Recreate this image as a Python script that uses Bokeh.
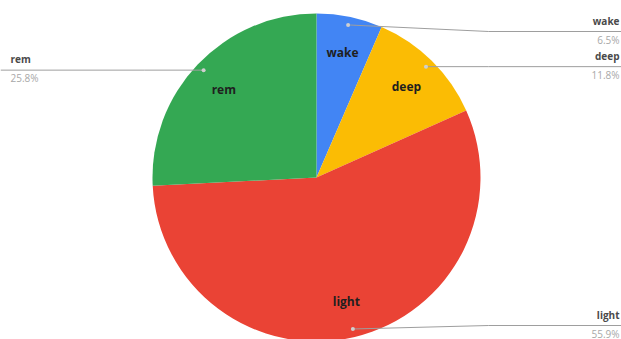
import numpy as np
from bokeh.plotting import figure
from bokeh.models import Range1d, ColumnDataSource
from bokeh.core.properties import value
from bokeh.embed import file_html
from bokeh.resources import INLINE

categories = ["wake", "deep", "light", "rem"]
shares = [6.5, 11.8, 55.9, 25.8]
pct_labels = ["6.5%", "11.8%", "55.9%", "25.8%"]
colors = ["#4285F4", "#FBBC04", "#EA4335", "#34A853"]

W, H = 621, 339
CX, CY, R = 316, H - 177, 164
FONT = "Open Sans"

p = figure(width=W, height=H, x_range=Range1d(0, W), y_range=Range1d(0, H),
           output_backend="svg", toolbar_location=None, min_border=0)
p.axis.visible = False
p.grid.visible = False
p.outline_line_color = None
p.background_fill_color = "white"
p.border_fill_color = "white"

frac = np.array(shares) / sum(shares)
cum = np.concatenate([[0], np.cumsum(frac)])
start = np.pi / 2 - cum[1:] * 2 * np.pi
end = np.pi / 2 - cum[:-1] * 2 * np.pi
mid = (start + end) / 2

src = ColumnDataSource(dict(start=start, end=end, color=colors))
p.wedge(x=CX, y=CY, radius=R, start_angle="start", end_angle="end",
        fill_color="color", line_color=None, source=src)

# inner labels
ix = CX + 0.78 * R * np.cos(mid)
iy = CY + 0.78 * R * np.sin(mid)
p.text(x=ix, y=iy, text=categories, text_align="center", text_baseline="middle",
       text_font=value(FONT), text_font_style="bold", text_font_size="12px",
       text_color="#1f1f1f")

# leader lines
dx = CX + 0.95 * R * np.cos(mid)
dy = CY + 0.95 * R * np.sin(mid)
ly = np.clip(dy, H - 325, H - 31)
right = np.cos(mid) >= 0
xs, ys = [], []
for i in range(len(categories)):
    if right[i]:
        ex = CX + 1.05 * R
        xs.append([dx[i], ex, W])
    else:
        ex = CX - 1.05 * R
        xs.append([dx[i], ex, 0])
    ys.append([dy[i], ly[i], ly[i]])
p.multi_line(xs=xs, ys=ys, line_color="#9e9e9e", line_width=1)
p.scatter(x=dx, y=dy, size=4, fill_color="#cfcfcf", line_color=None)

# outer labels
for i in range(len(categories)):
    tx = W - 2 if right[i] else 10
    align = "right" if right[i] else "left"
    p.text(x=[tx], y=[ly[i] + 11], text=[categories[i]], text_align=align,
           text_baseline="middle", text_font=value(FONT), text_font_style="bold",
           text_font_size="10px", text_color="#4a4a4a")
    p.text(x=[tx], y=[ly[i] - 8], text=[pct_labels[i]], text_align=align,
           text_baseline="middle", text_font=value(FONT),
           text_font_size="10px", text_color="#a8a8a8")

open("out.html", "w").write(file_html(p, INLINE))
